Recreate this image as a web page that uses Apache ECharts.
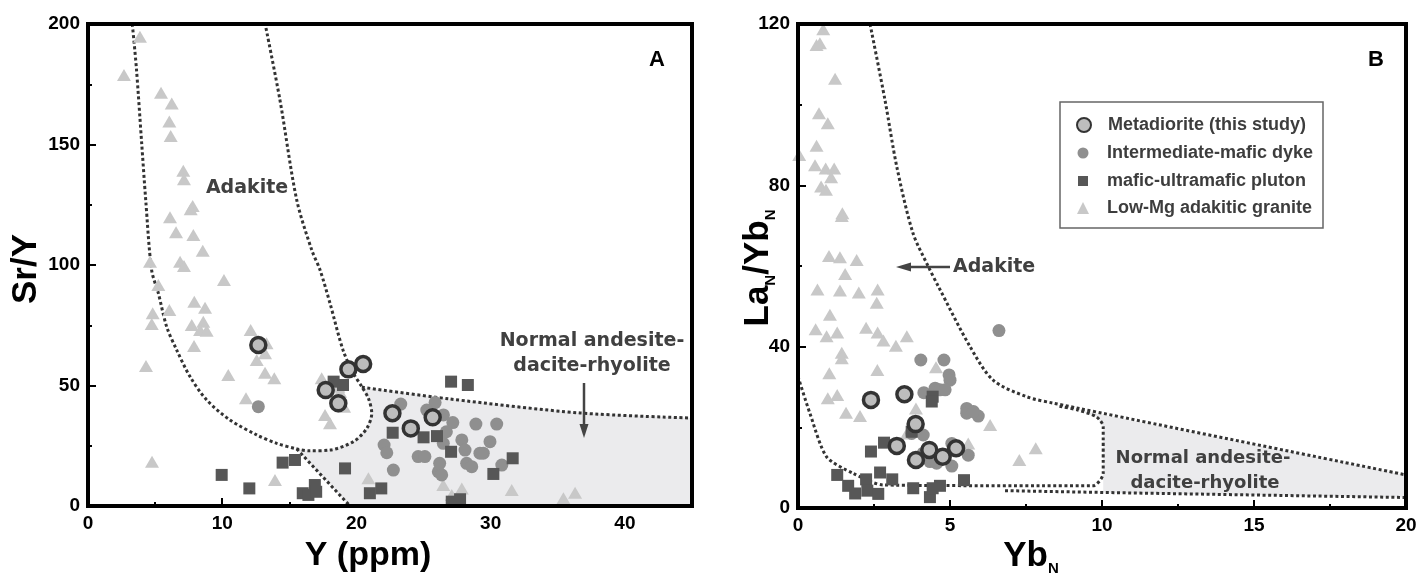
<!DOCTYPE html>
<html>
<head>
<meta charset="utf-8">
<script src="https://cdn.jsdelivr.net/npm/echarts@6/dist/echarts.min.js"></script>
<style>
  html, body { margin: 0; padding: 0; background: #fff; }
  #main { width: 1422px; height: 577px; }
</style>
</head>
<body>
<div id="main"></div>
<script>
// ---- panel A : Sr/Y vs Y (ppm) ----
const metaA = [[12.69,66.8],[19.4,56.7],[20.5,58.9],[17.71,48.1],[18.65,42.6],[22.68,38.5],[24.05,32.2],[25.68,36.8]];
const dykeA = [[12.69,41.2],[23.3,42.3],[25.86,42.9],[25.24,39.8],[26.48,37.8],[27.18,34.6],[28.9,34],[30.45,34],
  [22.06,25.3],[22.26,22.1],[24.6,20.5],[25.1,20.5],[22.75,14.9],[26.1,14.2],[26.35,12.9],[27.85,27.4],[28.09,23.2],
  [28.21,17.7],[28.59,16.3],[29.2,21.9],[29.45,21.9],[29.95,26.7],[30.83,17.0],[26.47,26],[26.7,30.8],[26.2,17.7]];
const plutonA = [[9.96,12.9],[12.02,7.3],[14.5,18],[15.42,19.1],[16,5.3],[16.42,4.6],[16.9,8.7],[17,5.9],[19.15,15.6],
  [18.3,51.6],[19.0,50.2],[21.0,5.3],[21.85,7.3],[22.7,30.4],[25.0,28.5],[26.0,29.0],[27.05,51.6],[28.3,50.2],
  [27.05,22.5],[31.64,19.8],[30.2,13.3],[27.1,1.8],[27.72,2.8]];
const graniteA = [[3.87,194.7],[2.68,178.8],[5.44,171.5],[6.24,167],[6.06,159.5],[6.16,153.5],[7.1,139.1],[7.15,135.6],
  [7.8,124.5],[7.65,123.1],[6.11,119.8],[6.56,113.6],[7.85,112.4],[8.55,105.9],[4.62,101.4],[6.86,101.4],[7.15,99.6],
  [10.13,93.8],[5.24,91.7],[6.06,81.3],[4.82,80.0],[7.92,84.8],[8.72,82.3],[4.75,75.5],[7.73,75.1],[8.59,76.5],
  [8.35,73],[8.84,72.7],[7.9,66.4],[4.32,58.1],[10.45,54.4],[12.12,73],[13.3,67.5],[12.57,60.6],[13.19,63.4],
  [13.19,55.3],[13.88,53],[11.77,44.7],[4.77,18.4],[13.93,10.8],[17.41,53],[18.65,49.5],[19.08,41.2],[17.66,37.8],
  [18.03,34.3],[18.78,47.4],[20.89,11.5],[26.47,8.7],[27.85,7.3],[27.1,4.6],[31.57,6.6],[35.42,3.2],[36.29,5.5]];

// field boundaries A
const adakiteA = [[3.3,200],[3.6,182],[4.0,150.5],[4.3,127],[4.74,97.9],[5.24,88.3],[5.86,74.4],[6.61,64.7],[7.6,53.7],
  [8.84,44],[10.58,35.7],[12.57,29.5],[14.06,26],[15.55,23.7],[16.54,22.9],[18.03,23.2],[19.77,26.7],[20.77,32.2],
  [21.14,38.5],[20.89,44.7],[20.4,49.5],[19.77,55.1],[19.0,64.7],[18.03,84.1],[17.29,97.9],[16.67,106.2],
  [15.55,127],[14.3,168.5],[13.2,200]];
const normalTopA = [[20.4,49.3],[26.97,44.4],[36.66,38.6],[45,36.5]];
const normalLowA = [[15.55,23.7],[19.52,0]];
const normalFieldA = [[15.55,23.7],[19.52,0],[45,0],[45,36.5],[36.66,38.6],[26.97,44.4],[20.4,49.3],[20.89,44.7],
  [21.14,38.5],[20.77,32.2],[19.77,26.7],[18.03,23.2],[16.54,22.9]];

// ---- panel B : LaN/YbN vs YbN ----
const metaB = [[2.4,26.8],[3.5,28.2],[3.87,20.8],[3.25,15.4],[4.32,14.4],[5.2,14.8],[3.88,11.9],[4.76,12.7]];
const dykeB = [[6.61,44],[4.04,36.7],[4.8,36.7],[4.97,33],[5.0,31.7],[4.14,28.6],[4.51,29.7],[4.67,29.3],[4.84,29.3],
  [5.55,24.7],[5.55,23.5],[5.93,22.8],[5.77,23.9],[3.74,18.5],[4.12,18.1],[5.06,16],[5.11,15.2],[5.6,13.1],
  [4.34,11.5],[4.56,11.1],[5.06,10.4],[4.12,13.6]];
const plutonB = [[4.43,27.6],[4.4,26.4],[3.74,18.9],[2.83,16.2],[2.4,14],[1.29,8.2],[2.7,8.8],[1.65,5.5],[1.88,3.6],
  [2.24,7.1],[2.28,4.3],[2.64,3.5],[3.1,7.1],[3.79,4.9],[4.34,2.7],[4.43,4.9],[4.67,5.5],[5.46,6.9]];
const graniteB = [[0.83,118.7],[0.61,114.8],[0.72,115.2],[1.22,106.4],[0.69,97.9],[0.98,95.4],[0.61,89.8],[0.04,87.5],
  [0.56,85],[0.91,84.2],[1.19,84.2],[1.09,82],[0.76,79.7],[0.92,78.9],[1.46,73.1],[1.44,72.4],[1.02,62.5],[1.38,62.2],
  [1.93,61.5],[1.55,58],[0.64,54.2],[1.38,53.9],[2.0,53.4],[2.62,54.2],[2.59,50.9],[1.05,47.9],[0.58,44.3],[0.94,42.6],
  [1.29,43.5],[2.24,44.7],[2.62,43.5],[2.81,41.5],[3.22,40.2],[3.58,42.6],[1.44,38.5],[1.44,37.1],[1.03,33.4],
  [2.61,34.2],[4.54,34.9],[0.98,27.2],[1.29,28],[1.58,23.6],[2.04,22.8],[3.88,24.7],[6.32,20.6],[5.6,16.0],
  [3.58,18.5],[7.82,14.8],[7.28,11.9]];

// field boundaries B
const adakiteB = [[2.37,120],[2.86,101.2],[3.25,84.6],[3.78,68.2],[4.29,59.8],[4.62,54.9],[5.66,40.0],[6.42,31.7],
  [7.52,27.6],[8.4,26.0],[20,8.2]];
const adakiteLowB = [[0,32.6],[0.39,23.5],[0.94,12.7],[1.81,8.6],[2.81,5.7],[9.7,5.5],[10.04,8.6],[10.04,20.2],
  [9.82,22.6],[9.2,24.3],[8.6,25.2]];
const normalBottomB = [[6.81,4.3],[10.4,3.8],[20,2.6]];
const normalFieldB = [[8.6,25.2],[20,8.2],[20,2.6],[10.4,3.8],[10.04,3.85],[10.04,8.6],[10.04,20.2],[9.82,22.6],[9.2,24.3]];

const seriesNames = ['Metadiorite (this study)', 'Intermediate-mafic dyke', 'mafic-ultramafic pluton', 'Low-Mg adakitic granite'];
const xTicksA = [0, 10, 20, 30, 40];
const xMinorA = [5, 15, 25, 35];

const font = "'Liberation Sans', Arial, sans-serif";
const noteFont = "'DejaVu Sans', sans-serif";
const dotColor = '#333';

function field(pts, ax) {
  return {
    type: 'custom', xAxisIndex: ax, yAxisIndex: ax, silent: true, z: 1, clip: true,
    data: pts,
    renderItem: function (params, api) {
      if (params.dataIndex !== 0) return null;
      return { type: 'polygon', shape: { points: pts.map(p => api.coord(p)) }, style: { fill: '#ebebed' } };
    }
  };
}
function boundary(pts, ax, smooth) {
  return {
    type: 'line', xAxisIndex: ax, yAxisIndex: ax, data: pts, symbol: 'none', showSymbol: false,
    smooth: smooth, silent: true, z: 2,
    lineStyle: { color: dotColor, width: 3, type: [3, 2.6] }
  };
}
function points(ax, list) {
  return [
    { name: seriesNames[3], type: 'scatter', xAxisIndex: ax, yAxisIndex: ax, data: list[3], symbol: 'triangle',
      symbolSize: [14, 12], itemStyle: { color: '#c8c8c8', opacity: 1 }, z: 3 },
    { name: seriesNames[1], type: 'scatter', xAxisIndex: ax, yAxisIndex: ax, data: list[1], symbol: 'circle',
      symbolSize: 13, itemStyle: { color: '#8f8f8f', opacity: 1 }, z: 4 },
    { name: seriesNames[2], type: 'scatter', xAxisIndex: ax, yAxisIndex: ax, data: list[2], symbol: 'rect',
      symbolSize: 12, itemStyle: { color: '#575757', opacity: 1 }, z: 5 },
    { name: seriesNames[0], type: 'scatter', xAxisIndex: ax, yAxisIndex: ax, data: list[0], symbol: 'circle',
      symbolSize: 15, itemStyle: { color: '#bdbdbd', borderColor: '#333', borderWidth: 3.5, opacity: 1 }, z: 6 }
  ];
}

const tickLabel = { fontSize: 19, fontWeight: 'bold', color: '#000', fontFamily: font };
function valueAxis(grid, min, max, interval, extra) {
  return Object.assign({
    gridIndex: grid, type: 'value', min: min, max: max, interval: interval,
    axisLine: { show: true, onZero: false, lineStyle: { color: '#000', width: 4 } },
    axisTick: { inside: true, length: 8, lineStyle: { color: '#000', width: 2 } },
    minorTick: { show: true, splitNumber: 2, length: 4, lineStyle: { color: '#000', width: 2 } },
    axisLabel: Object.assign({ margin: 8 }, tickLabel),
    splitLine: { show: false }, minorSplitLine: { show: false }
  }, extra || {});
}

// legend rows: one legend per row so each icon keeps its own size
const legendRows = [
  { name: seriesNames[0], y: 125, size: 14 },
  { name: seriesNames[1], y: 153, size: 11 },
  { name: seriesNames[2], y: 181, size: 10 },
  { name: seriesNames[3], y: 208, size: 12 }
];

const chart = echarts.init(document.getElementById('main'));
chart.setOption({
  animation: false,
  backgroundColor: '#fff',
  grid: [
    { left: 88, top: 24, width: 604, height: 482 },
    { left: 798, top: 24, width: 608, height: 484 }
  ],
  xAxis: [
    valueAxis(0, 0, 45, 10, {
      axisTick: { inside: true, length: 8, customValues: xTicksA, lineStyle: { color: '#000', width: 2 } },
      minorTick: { show: false },
      axisLabel: Object.assign({ margin: 8, customValues: xTicksA, formatter: v => (v % 10 === 0 ? v : '') }, tickLabel)
    }),
    valueAxis(1, 0, 20, 5),
    {
      gridIndex: 0, type: 'value', position: 'bottom', min: 0, max: 45, interval: 5,
      axisLine: { show: false }, axisLabel: { show: false }, splitLine: { show: false },
      axisTick: { inside: true, length: 4, customValues: xMinorA, lineStyle: { color: '#000', width: 2 } }
    }
  ],
  yAxis: [
    valueAxis(0, 0, 200, 50),
    valueAxis(1, 0, 120, 40)
  ],
  legend: legendRows.map(r => ({
    data: [r.name], orient: 'vertical', selectedMode: false, padding: 0,
    left: 1083 - r.size / 2, top: r.y - 9,
    itemWidth: r.size, itemHeight: r.size,
    textStyle: { fontSize: 18, fontWeight: 'bold', color: '#3d3d3d', fontFamily: font,
      padding: [0, 0, 0, 19 - r.size / 2] }
  })),
  series: [
    field(normalFieldA, 0),
    boundary(adakiteA, 0, 0.3),
    boundary(normalTopA, 0, 0.3),
    boundary(normalLowA, 0, false),
    ...points(0, [metaA, dykeA, plutonA, graniteA]),
    field(normalFieldB, 1),
    boundary(adakiteB, 1, 0.3),
    boundary(adakiteLowB, 1, 0.25),
    boundary(normalBottomB, 1, false),
    ...points(1, [metaB, dykeB, plutonB, graniteB])
  ],
  graphic: [
    // plot frames
    { type: 'rect', z: 50, shape: { x: 88, y: 24, width: 604, height: 482 }, style: { fill: null, stroke: '#000', lineWidth: 4 } },
    { type: 'rect', z: 50, shape: { x: 798, y: 24, width: 608, height: 484 }, style: { fill: null, stroke: '#000', lineWidth: 4 } },
    // legend box
    { type: 'rect', z: 0, shape: { x: 1060, y: 102, width: 263, height: 126 }, style: { fill: '#fff', stroke: '#666', lineWidth: 1.5 } },
    // panel letters
    { type: 'text', z: 50, x: 657, y: 60, style: { text: 'A', font: "bold 22px " + font, fill: '#000', align: 'center', verticalAlign: 'middle' } },
    { type: 'text', z: 50, x: 1376, y: 60, style: { text: 'B', font: "bold 22px " + font, fill: '#000', align: 'center', verticalAlign: 'middle' } },
    // axis titles
    { type: 'text', z: 50, x: 26, y: 269, rotation: Math.PI / 2,
      style: { text: 'Sr/Y', font: "bold 35px " + font, fill: '#000', align: 'center', verticalAlign: 'middle' } },
    { type: 'text', z: 50, x: 368, y: 556,
      style: { text: 'Y (ppm)', font: "bold 34px " + font, fill: '#000', align: 'center', verticalAlign: 'middle' } },
    { type: 'text', z: 50, x: 758, y: 268, rotation: Math.PI / 2,
      style: {
        text: '{m|La}{s|N}{m|/Yb}{s|N}', align: 'center', verticalAlign: 'middle',
        rich: {
          m: { fontSize: 35, fontWeight: 'bold', fontFamily: font, fill: '#000', lineHeight: 40 },
          s: { fontSize: 15, fontWeight: 'bold', fontFamily: font, fill: '#000', lineHeight: 16, verticalAlign: 'bottom' }
        }
      } },
    { type: 'text', z: 50, x: 1031, y: 556,
      style: {
        text: '{m|Yb}{s|N}', align: 'center', verticalAlign: 'middle',
        rich: {
          m: { fontSize: 35, fontWeight: 'bold', fontFamily: font, fill: '#000', lineHeight: 40 },
          s: { fontSize: 15, fontWeight: 'bold', fontFamily: font, fill: '#000', lineHeight: 16, verticalAlign: 'bottom' }
        }
      } },
    // annotations panel A
    { type: 'text', z: 50, x: 247, y: 188, style: { text: 'Adakite', font: "bold 19px " + noteFont, fill: '#404040', align: 'center', verticalAlign: 'middle' } },
    { type: 'text', z: 50, x: 592, y: 341, style: { text: 'Normal andesite-', font: "bold 19px " + noteFont, fill: '#404040', align: 'center', verticalAlign: 'middle' } },
    { type: 'text', z: 50, x: 592, y: 366, style: { text: 'dacite-rhyolite', font: "bold 19px " + noteFont, fill: '#404040', align: 'center', verticalAlign: 'middle' } },
    { type: 'line', z: 50, shape: { x1: 584, y1: 383, x2: 584, y2: 427 }, style: { stroke: '#444', lineWidth: 2.5 } },
    { type: 'polygon', z: 50, shape: { points: [[579.5, 424], [588.5, 424], [584, 438]] }, style: { fill: '#444' } },
    // annotations panel B
    { type: 'text', z: 50, x: 953, y: 267, style: { text: 'Adakite', font: "bold 19px " + noteFont, fill: '#404040', align: 'left', verticalAlign: 'middle' } },
    { type: 'line', z: 50, shape: { x1: 950, y1: 267, x2: 908, y2: 267 }, style: { stroke: '#444', lineWidth: 2.5 } },
    { type: 'polygon', z: 50, shape: { points: [[911, 262.5], [911, 271.5], [896, 267]] }, style: { fill: '#444' } },
    { type: 'text', z: 50, x: 1203, y: 458, style: { text: 'Normal andesite-', font: "bold 18px " + noteFont, fill: '#404040', align: 'center', verticalAlign: 'middle' } },
    { type: 'text', z: 50, x: 1205, y: 483, style: { text: 'dacite-rhyolite', font: "bold 18px " + noteFont, fill: '#404040', align: 'center', verticalAlign: 'middle' } }
  ]
});
</script>
</body>
</html>
